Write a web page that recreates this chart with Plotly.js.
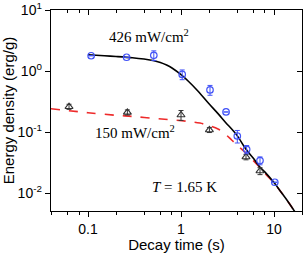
<!DOCTYPE html>
<html>
<head>
<meta charset="utf-8">
<script src="https://cdn.plot.ly/plotly-3.0.1.min.js"></script>
<style>html,body{margin:0;padding:0;background:#fff;}#chart{width:303px;height:253px;}</style>
</head>
<body>
<div id="chart"></div>
<script>
// Measured data, 426 mW/cm2 (blue circles)
const timeHigh = [0.108, 0.26, 0.51, 1.03, 2.05, 3.05, 4.03, 5.08, 7.07, 10.2];
const energyHigh = [1.78, 1.68, 1.81, 0.88, 0.49, 0.213, 0.086, 0.052, 0.034, 0.015];
const errHigh = [null, null, 0.33, 0.16, 0.09, null, 0.02, 0.008, 0.005, null];
// Measured data, 150 mW/cm2 (triangles)
const timeLow = [0.0625, 0.265, 1.0, 2.02, 5.0, 7.07];
const energyLow = [0.26, 0.21, 0.19, 0.108, 0.039, 0.023];
const errLow = [0.025, 0.02, 0.035, 0.01, 0.004, 0.003];
// Model curve, 426 mW/cm2 (black solid)
const fitHighX = [0.1, 0.15, 0.2, 0.3, 0.4, 0.5, 0.6, 0.7, 0.8, 1.0, 1.2, 1.5, 2, 2.5, 3, 4, 5, 6, 7, 8, 10, 12, 14, 16.8];
const fitHighY = [1.85, 1.78, 1.73, 1.65, 1.57, 1.49, 1.38, 1.25, 1.12, 0.87, 0.68, 0.48, 0.29, 0.20, 0.145, 0.088, 0.052, 0.037, 0.027, 0.022, 0.0148, 0.0102, 0.0074, 0.0049];
// Model curve, 150 mW/cm2 (red dashed)
const fitLowX = [0.04, 0.06, 0.1, 0.2, 0.3, 0.5, 0.8, 1.2, 1.6, 2.0, 2.5, 3.0, 3.5, 4, 5, 6, 7, 8, 10, 12, 14, 16.8];
const fitLowY = [0.24, 0.225, 0.207, 0.188, 0.18, 0.168, 0.158, 0.149, 0.140, 0.127, 0.112, 0.092, 0.074, 0.061, 0.045, 0.034, 0.0265, 0.021, 0.0145, 0.0102, 0.0074, 0.0049];
// Tick labels
const xTickVals = [0.1, 1, 10];
const xTickText = ['0.1', '1', '10'];
const xMinorVals = [0.04, 0.06, 0.08, 0.2, 0.4, 0.6, 0.8, 2, 4, 6, 8, 20];
const yTickVals = [0.01, 0.1, 1, 10];
const yTickText = ['10<sup>-2</sup>', '10<sup>-1</sup>', '10<sup>0</sup>', '10<sup>1</sup>'];

const blue = '#4253f7';
const grey = '#333333';
const red = '#ee2a2a';
const xr = [Math.log10(0.04), Math.log10(20)];
const yr = [-2.295, 1];

const traces = [
  {x: fitLowX, y: fitLowY, mode: 'lines', line: {color: red, width: 1.6, dash: 'dash', shape: 'spline'}, hoverinfo: 'skip'},
  {x: fitHighX, y: fitHighY, mode: 'lines', line: {color: '#000', width: 1.6, shape: 'spline'}, hoverinfo: 'skip'},
  {x: timeLow, y: energyLow, mode: 'markers', marker: {symbol: 'triangle-up-open', size: 7, color: grey, line: {width: 1.1, color: grey}},
   error_y: {type: 'data', array: errLow, symmetric: true, color: grey, thickness: 1, width: 2.5}},
  {x: timeHigh, y: energyHigh, mode: 'markers', marker: {symbol: 'circle-open', size: 6.5, color: blue, line: {width: 1.2, color: blue}},
   error_y: {type: 'data', array: errHigh, symmetric: true, color: blue, thickness: 1, width: 2.5}},
  {x: [1], y: [1], xaxis: 'x2', yaxis: 'y2', mode: 'markers', marker: {opacity: 0}, hoverinfo: 'skip', showlegend: false}
];

const tickFont = {family: 'Liberation Sans, Arial, sans-serif', size: 14, color: '#000'};
const titleFont = {family: 'Liberation Sans, Arial, sans-serif', size: 15, color: '#000'};
const serif = {family: 'Liberation Serif, Times New Roman, serif', size: 15, color: '#000'};
const layout = {
  width: 303, height: 253,
  margin: {l: 51, r: 1, t: 10, b: 42},
  paper_bgcolor: '#fff', plot_bgcolor: '#fff',
  showlegend: false,
  xaxis: {type: 'log', range: xr, showgrid: false, zeroline: false, showline: true, linecolor: '#000', linewidth: 1.3,
    ticks: 'outside', ticklen: 5, tickwidth: 1, tickcolor: '#000', tickmode: 'array', tickvals: xTickVals, ticktext: xTickText,
    minor: {tickmode: 'array', tickvals: xMinorVals, ticks: 'outside', ticklen: 3, tickwidth: 1, tickcolor: '#000', showgrid: false},
    tickfont: tickFont, title: {text: 'Decay time (s)', font: titleFont, standoff: 5}},
  yaxis: {type: 'log', range: yr, showgrid: false, zeroline: false, showline: true, linecolor: '#000', linewidth: 1.3,
    ticks: 'outside', ticklen: 5, tickwidth: 1, tickcolor: '#000', tickmode: 'array', tickvals: yTickVals, ticktext: yTickText,
    tickfont: tickFont, title: {text: 'Energy density (erg/g)', font: titleFont, standoff: 4}},
  xaxis2: {type: 'log', range: xr, overlaying: 'x', side: 'top', showgrid: false, zeroline: false, showline: true, linecolor: '#000', linewidth: 1.3,
    ticks: 'inside', ticklen: 5, tickwidth: 1, tickcolor: '#000', tickmode: 'array', tickvals: xTickVals, showticklabels: false,
    minor: {tickmode: 'array', tickvals: xMinorVals, ticks: 'inside', ticklen: 3, tickwidth: 1, tickcolor: '#000', showgrid: false}},
  yaxis2: {type: 'log', range: yr, overlaying: 'y', side: 'right', showgrid: false, zeroline: false, showline: true, linecolor: '#000', linewidth: 1.3,
    ticks: 'inside', ticklen: 5, tickwidth: 1, tickcolor: '#000', tickmode: 'array', tickvals: yTickVals, showticklabels: false},
  annotations: [
    {xref: 'paper', yref: 'paper', x: 0.392, y: 0.871, xanchor: 'center', yanchor: 'middle', text: '426 mW/cm<sup>2</sup>', showarrow: false, font: serif},
    {xref: 'paper', yref: 'paper', x: 0.335, y: 0.395, xanchor: 'center', yanchor: 'middle', text: '150 mW/cm<sup>2</sup>', showarrow: false, font: serif},
    {xref: 'paper', yref: 'paper', x: 0.532, y: 0.119, xanchor: 'center', yanchor: 'middle', text: '<i>T</i> = 1.65 K', showarrow: false, font: serif}
  ]
};
Plotly.newPlot('chart', traces, layout, {staticPlot: true, displayModeBar: false});
</script>
</body>
</html>
